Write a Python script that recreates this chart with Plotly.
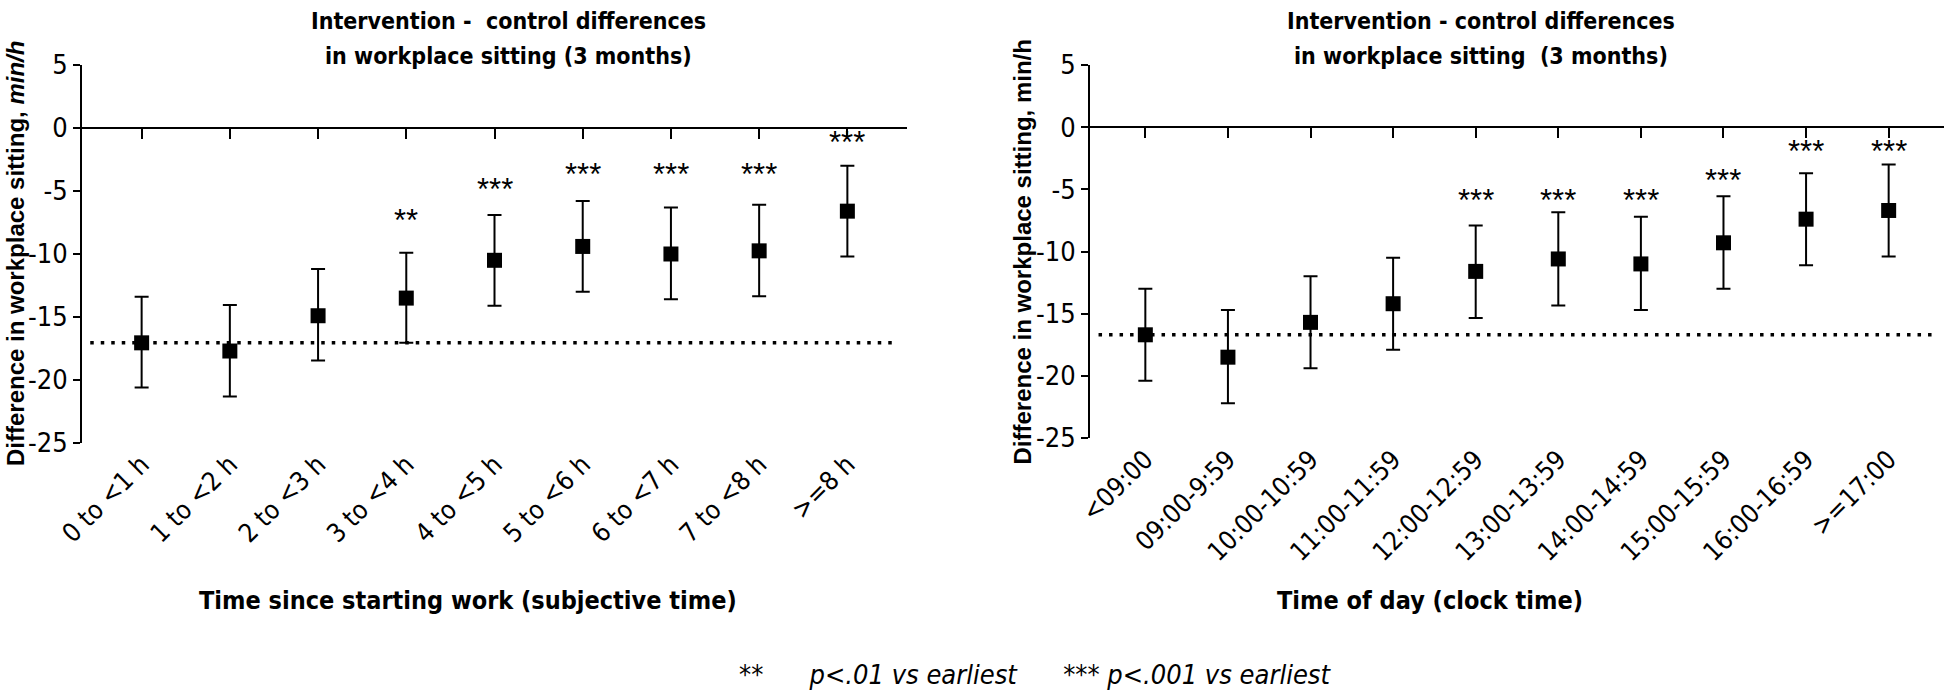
import plotly.graph_objects as go

# ---------------- data ----------------
left_categories = ["0 to &lt;1 h", "1 to &lt;2 h", "2 to &lt;3 h", "3 to &lt;4 h", "4 to &lt;5 h",
                   "5 to &lt;6 h", "6 to &lt;7 h", "7 to &lt;8 h", "&gt;=8 h"]
left_mean = [-17.05, -17.7, -14.9, -13.5, -10.5, -9.4, -10.0, -9.75, -6.6]
left_upper = [-13.4, -14.05, -11.2, -9.9, -6.9, -5.8, -6.3, -6.1, -3.0]
left_lower = [-20.6, -21.3, -18.45, -17.05, -14.1, -13.0, -13.6, -13.35, -10.2]
left_sig = ["", "", "", "**", "***", "***", "***", "***", "***"]
left_sig_y = [None, None, None, -6.8, -4.3, -3.1, -3.1, -3.1, -0.6]

right_categories = ["&lt;09:00", "09:00-9:59", "10:00-10:59", "11:00-11:59", "12:00-12:59",
                    "13:00-13:59", "14:00-14:59", "15:00-15:59", "16:00-16:59", "&gt;=17:00"]
right_mean = [-16.7, -18.5, -15.7, -14.2, -11.6, -10.6, -11.0, -9.3, -7.4, -6.7]
right_upper = [-13.0, -14.7, -12.0, -10.5, -7.9, -6.85, -7.2, -5.55, -3.7, -3.0]
right_lower = [-20.4, -22.2, -19.4, -17.9, -15.35, -14.35, -14.7, -13.0, -11.1, -10.4]
right_sig = ["", "", "", "", "***", "***", "***", "***", "***", "***"]
right_sig_y = [None, None, None, None, -5.3, -5.3, -5.3, -3.7, -1.4, -1.4]

y_ticks = [5, 0, -5, -10, -15, -20, -25]
y_tick_labels = ["5", "0", "-5", "-10", "-15", "-20", "-25"]
y_range = [-25, 5]

left_title = ["Intervention -  control differences", "in workplace sitting (3 months)"]
right_title = ["Intervention - control differences", "in workplace sitting  (3 months)"]
left_ytitle = "Difference in workplace sitting, <i>min/h</i>"
right_ytitle = "Difference in workplace sitting, min/h"
left_xtitle = "Time since starting work (subjective time)"
right_xtitle = "Time of day (clock time)"
footnote = "**      <i>p&lt;.01 vs earliest</i>      *** <i>p&lt;.001 vs earliest</i>"

# ---------------- layout geometry ----------------
W, H = 1946, 694
NARROW = "DejaVu Sans Condensed, Liberation Sans Narrow, Arial Narrow, Liberation Sans, Arial, sans-serif"
ARIAL = "Liberation Sans, Arial, sans-serif"


def px_x(p):
    return p / W


def px_y(p):
    return 1 - p / H


panels = [
    dict(cats=left_categories, mean=left_mean, up=left_upper, lo=left_lower, sig=left_sig,
         sig_y=left_sig_y, xdom=[px_x(82), px_x(907)], ydom=[px_y(443), px_y(65)],
         pad=0.676, title=left_title, ytitle=left_ytitle, xtitle=left_xtitle, ytx=15,
         title_cx=508, xtitle_cx=468),
    dict(cats=right_categories, mean=right_mean, up=right_upper, lo=right_lower, sig=right_sig,
         sig_y=right_sig_y, xdom=[px_x(1090), px_x(1944)], ydom=[px_y(438), px_y(65)],
         pad=0.67, title=right_title, ytitle=right_ytitle, xtitle=right_xtitle, ytx=1022,
         title_cx=1481, xtitle_cx=1430),
]

fig = go.Figure()
annotations = []
shapes = []

for k, p in enumerate(panels):
    n = len(p["cats"])
    xs = list(range(n))
    xa = "x" if k == 0 else "x2"
    ya = "y" if k == 0 else "y2"
    xz = "x3" if k == 0 else "x4"
    xrange = [-p["pad"], n - 1 + p["pad"]]

    err_plus = [u - m for u, m in zip(p["up"], p["mean"])]
    err_minus = [m - l for m, l in zip(p["mean"], p["lo"])]

    fig.add_trace(go.Scatter(
        x=xs, y=p["mean"], xaxis=xa, yaxis=ya, mode="markers",
        marker=dict(symbol="square", size=15, color="black"),
        error_y=dict(type="data", symmetric=False, array=err_plus, arrayminus=err_minus,
                     color="black", thickness=2, width=7),
        showlegend=False, hoverinfo="skip"))

    # invisible trace on the zero-line axis so it renders
    fig.add_trace(go.Scatter(x=xs, y=p["mean"], xaxis=xz, yaxis=ya, mode="markers",
                             marker=dict(opacity=0), showlegend=False, hoverinfo="skip"))

    # reference dotted line at the earliest value
    shapes.append(dict(type="line", xref=f"{xa} domain", yref=ya, x0=0.01, x1=0.99,
                       y0=p["mean"][0], y1=p["mean"][0],
                       line=dict(color="black", width=3.5, dash="3.5px,7px")))

    # significance stars
    for i, (s, sy) in enumerate(zip(p["sig"], p["sig_y"])):
        if s:
            annotations.append(dict(x=i, y=sy, xref=xa, yref=ya, text=s, showarrow=False,
                                    font=dict(family=ARIAL, size=31, color="black"),
                                    yanchor="middle", yshift=-7))

    cy = (p["ydom"][0] + p["ydom"][1]) / 2
    # title (two lines)
    for line, ty in zip(p["title"], [21, 56]):
        annotations.append(dict(x=px_x(p["title_cx"]), y=px_y(ty), xref="paper", yref="paper",
                                text=line, showarrow=False, xanchor="center", yanchor="middle",
                                font=dict(family=NARROW, size=23, color="black", weight="bold")))
    # y-axis title
    annotations.append(dict(x=px_x(p["ytx"]), y=cy, xref="paper", yref="paper", text=p["ytitle"],
                            showarrow=False, textangle=-90, xanchor="center", yanchor="middle",
                            font=dict(family=ARIAL, size=24, color="black", weight="bold")))
    # x-axis title
    annotations.append(dict(x=px_x(p["xtitle_cx"]), y=px_y(600), xref="paper", yref="paper",
                            text=p["xtitle"], showarrow=False,
                            xanchor="center", yanchor="middle",
                            font=dict(family=NARROW, size=25, color="black", weight="bold")))

    axis_x = dict(domain=p["xdom"], range=xrange, tickvals=xs, ticktext=p["cats"],
                  tickangle=-45, showline=False, ticks="", showgrid=False, zeroline=False,
                  automargin=False,
                  tickfont=dict(family=NARROW, size=26, color="black"), anchor=ya)
    axis_y = dict(domain=p["ydom"], range=y_range, tickvals=y_ticks, ticktext=y_tick_labels,
                  showline=True,
                  linecolor="black", linewidth=2, ticks="outside", ticklen=7, tickwidth=2,
                  tickcolor="black", showgrid=False, zeroline=False, automargin=False,
                  tickfont=dict(family=NARROW, size=27, color="black"), anchor=xa)
    zero_pos = p["ydom"][0] + (p["ydom"][1] - p["ydom"][0]) * (0 - y_range[0]) / (y_range[1] - y_range[0])
    axis_z = dict(domain=p["xdom"], range=xrange, tickvals=xs, showticklabels=False,
                  showline=True, linecolor="black", linewidth=2, ticks="outside", ticklen=10,
                  tickwidth=2, tickcolor="black", showgrid=False, zeroline=False,
                  automargin=False,
                  anchor="free", position=zero_pos, overlaying=xa, side="bottom")
    if k == 0:
        fig.update_layout(xaxis=axis_x, yaxis=axis_y, xaxis3=axis_z)
    else:
        fig.update_layout(xaxis2=axis_x, yaxis2=axis_y, xaxis4=axis_z)

# footnote
annotations.append(dict(x=px_x(1035), y=px_y(674), xref="paper", yref="paper", text=footnote,
                        showarrow=False, xanchor="center", yanchor="middle",
                        font=dict(family=NARROW, size=27, color="black")))

fig.update_layout(template="none", width=W, height=H, margin=dict(l=0, r=0, t=0, b=0),
                  paper_bgcolor="white", plot_bgcolor="white",
                  annotations=annotations, shapes=shapes, showlegend=False)

fig.write_html("out.html", config={"displayModeBar": False},
               post_script="document.body.style.margin='0';document.body.style.overflow='hidden';")
